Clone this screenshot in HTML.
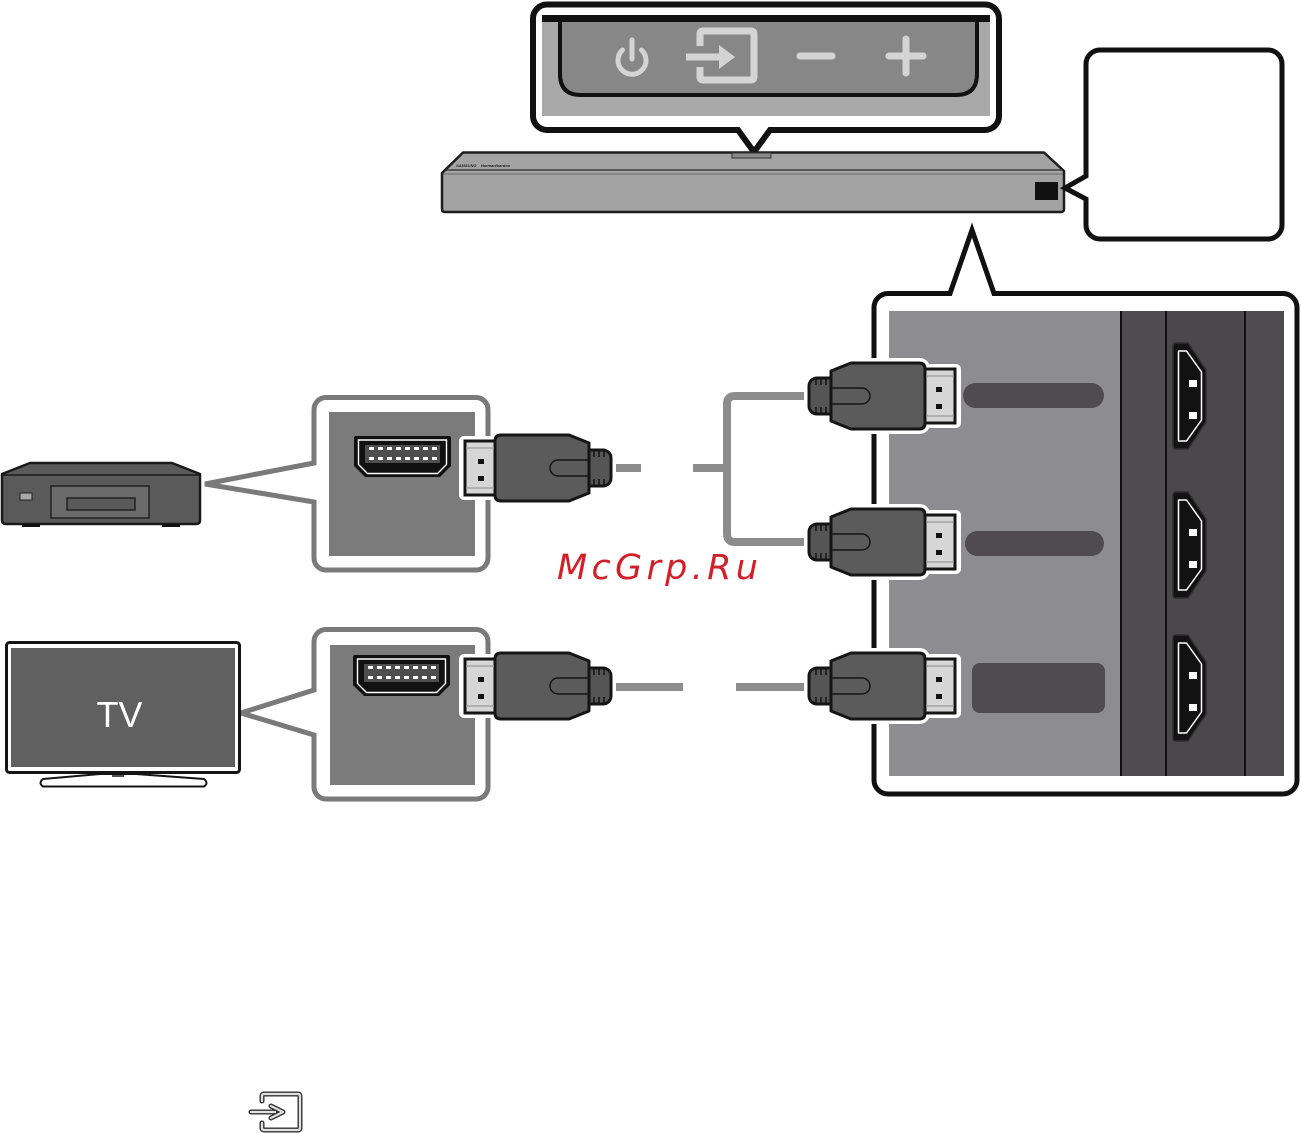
<!DOCTYPE html>
<html>
<head>
<meta charset="utf-8">
<style>
  html,body{margin:0;padding:0;background:#fff;}
  body{width:1302px;height:1133px;overflow:hidden;}
  svg{display:block;}
</style>
</head>
<body>
<svg width="1302" height="1133" viewBox="0 0 1302 1133" xmlns="http://www.w3.org/2000/svg">
  <defs>
    <g id="plug">
      <g fill="#fff" stroke="#fff" stroke-width="10" stroke-linejoin="round">
        <rect x="0" y="-18" width="30" height="36" rx="8"/>
        <path d="M22 -25 L42 -33 H110 Q116 -33 116 -27 V27 Q116 33 110 33 H42 L22 25 Z"/>
        <rect x="116" y="-27" width="31" height="54"/>
      </g>
      <rect x="0" y="-18" width="30" height="36" rx="8" fill="#555" stroke="#151515" stroke-width="3"/>
      <g stroke="#151515" stroke-width="1.5">
        <line x1="7" y1="-18" x2="7" y2="-11"/><line x1="12" y1="-18" x2="12" y2="-11"/><line x1="17" y1="-18" x2="17" y2="-11"/>
        <line x1="7" y1="11" x2="7" y2="18"/><line x1="12" y1="11" x2="12" y2="18"/><line x1="17" y1="11" x2="17" y2="18"/>
      </g>
      <path d="M22 -25 L42 -33 H110 Q116 -33 116 -27 V27 Q116 33 110 33 H42 L22 25 Z" fill="#5b5b5b" stroke="#151515" stroke-width="3" stroke-linejoin="round"/>
      <path d="M23 -8 H53 A8 8 0 0 1 53 8 H23" fill="none" stroke="#151515" stroke-width="1.5"/>
      <rect x="116" y="-27" width="30" height="54" fill="#d6d6d6" stroke="#151515" stroke-width="3"/>
      <line x1="117" y1="-20" x2="145" y2="-20" stroke="#999" stroke-width="1.2"/>
      <line x1="117" y1="20" x2="145" y2="20" stroke="#999" stroke-width="1.2"/>
      <rect x="127" y="-9" width="6" height="5" fill="#111"/>
      <rect x="127" y="8" width="6" height="5" fill="#111"/>
    </g>
    <g id="sock">
      <path d="M356 436 H449 Q451 436 451 438 V466 L440 477 H365 L354 466 V438 Q354 436 356 436 Z" fill="#111"/>
      <path d="M358.5 440 H446.5 V464.5 L437.5 473.5 H367.5 L358.5 464.5 Z" fill="none" stroke="#fff" stroke-width="1.4"/>
      <rect x="365" y="445" width="75" height="18" fill="#4e4e4e"/>
      <g fill="#fff">
        <rect x="369" y="447" width="5" height="3"/><rect x="378" y="447" width="5" height="3"/><rect x="387" y="447" width="5" height="3"/><rect x="396" y="447" width="5" height="3"/><rect x="405" y="447" width="5" height="3"/><rect x="414" y="447" width="5" height="3"/><rect x="423" y="447" width="5" height="3"/><rect x="432" y="447" width="5" height="3"/>
        <rect x="369" y="457" width="5" height="3"/><rect x="378" y="457" width="5" height="3"/><rect x="387" y="457" width="5" height="3"/><rect x="396" y="457" width="5" height="3"/><rect x="405" y="457" width="5" height="3"/><rect x="414" y="457" width="5" height="3"/><rect x="423" y="457" width="5" height="3"/><rect x="432" y="457" width="5" height="3"/>
      </g>
    </g>
    <g id="port">
      <path d="M1176 343 H1188 L1206 370 V422 L1188 449 H1176 Q1173 449 1173 446 V346 Q1173 343 1176 343 Z" fill="#121212" stroke="#2e2e2e" stroke-width="1.5"/>
      <path d="M1178.5 351 H1186.5 L1201.5 372 V420 L1186.5 441 H1178.5 Z" fill="none" stroke="#fff" stroke-width="1.5" stroke-linejoin="round"/>
      <rect x="1189" y="380" width="8" height="7" fill="#fff"/>
      <rect x="1189" y="412" width="8" height="7" fill="#fff"/>
    </g>
  </defs>

  <!-- TOP CALLOUT -->
  <path d="M547 4.5 H985 A14 14 0 0 1 999 18.5 V116 A14 14 0 0 1 985 130 H770 L754 152 L738 130 H547 A14 14 0 0 1 533 116 V18.5 A14 14 0 0 1 547 4.5 Z" fill="#fff" stroke="#111" stroke-width="6" stroke-linejoin="miter"/>
  <rect x="542" y="15" width="448" height="101" fill="#a9a9a9"/>
  <path d="M560 20 V74 Q560 95 581 95 H956 Q977 95 977 74 V20 Z" fill="#878787" stroke="#111" stroke-width="4"/>
  <rect x="542" y="15" width="448" height="7" fill="#111"/>
  <!-- icons -->
  <g fill="none" stroke="#d4d4d4" stroke-width="5" stroke-linecap="round">
    <path d="M622.5 50 A14 14 0 1 0 641.5 50"/>
    <line x1="632" y1="40" x2="632" y2="59"/>
  </g>
  <g fill="none" stroke="#d4d4d4" stroke-width="7">
    <path d="M700 46 V34 Q700 31 703 31 H751 Q754 31 754 34 V77 Q754 80 751 80 H703 Q700 80 700 77 V67" stroke-linejoin="round"/>
    <line x1="686" y1="57" x2="724" y2="57"/>
  </g>
  <path d="M719 45 L735 57 L719 69 Z" fill="#d4d4d4"/>
  <g stroke="#d4d4d4" stroke-width="7" stroke-linecap="round">
    <line x1="800" y1="56" x2="832" y2="56"/>
    <line x1="889" y1="56" x2="923" y2="56"/>
    <line x1="906" y1="39" x2="906" y2="73"/>
  </g>

  <!-- SOUNDBAR -->
  <path d="M463 152.5 H1044 L1064 171 V209 Q1064 212 1061 212 H445 Q442 212 442 209 V173 Z" fill="#a3a3a3" stroke="#1d1d1d" stroke-width="2.5" stroke-linejoin="round"/>
  <line x1="446" y1="170" x2="1062" y2="170" stroke="#2a2a2a" stroke-width="1.2"/>
  <line x1="443" y1="174" x2="1063" y2="174" stroke="#555" stroke-width="0.8"/>
  <text x="456" y="167" font-family="Liberation Sans, sans-serif" font-size="4" font-weight="bold" font-style="italic" fill="#222">SAMSUNG &#160;&#160;&#160;Harman/kardon</text>
  <rect x="732" y="153" width="39" height="5" fill="#8a8a8a" stroke="#333" stroke-width="1"/>
  <rect x="1035" y="182" width="23" height="18" fill="#111"/>

  <!-- RIGHT SMALL CALLOUT -->
  <path d="M1100 50 H1268 A14 14 0 0 1 1282 64 V225 A14 14 0 0 1 1268 239 H1100 A14 14 0 0 1 1086 225 V199 L1065 188 L1086 176 V64 A14 14 0 0 1 1100 50 Z" fill="#fff" stroke="#111" stroke-width="5"/>

  <!-- BIG RIGHT CALLOUT -->
  <path d="M888 293.5 H950 L972 230 L994 293.5 H1283 A14 14 0 0 1 1297 307.5 V780 A14 14 0 0 1 1283 794 H888 A14 14 0 0 1 874 780 V307.5 A14 14 0 0 1 888 293.5 Z" fill="#fff" stroke="#111" stroke-width="5"/>
  <rect x="889" y="311" width="232" height="465" fill="#8d8c8e"/>
  <rect x="1120" y="311" width="164" height="465" fill="#4e4c4e"/>
  <rect x="1166" y="311" width="79" height="465" fill="#4a484a"/>
  <g stroke="#111" stroke-width="2">
    <line x1="1121" y1="311" x2="1121" y2="776"/>
    <line x1="1166" y1="311" x2="1166" y2="776"/>
    <line x1="1245" y1="311" x2="1245" y2="776"/>
  </g>
  <rect x="963" y="383" width="141" height="25" rx="12.5" fill="#4e4c4e"/>
  <rect x="965" y="531" width="139" height="25" rx="12.5" fill="#4e4c4e"/>
  <rect x="972" y="663" width="133" height="50" rx="8" fill="#4e4c4e"/>
  <use href="#port"/>
  <use href="#port" transform="translate(0,149)"/>
  <use href="#port" transform="translate(0,292)"/>

  <!-- LEFT CALLOUT A (set-top box) -->
  <path d="M326 397.5 H476 A12 12 0 0 1 488 409.5 V558 A12 12 0 0 1 476 570 H326 A12 12 0 0 1 314 558 V502 L205 484 L314 463 V409.5 A12 12 0 0 1 326 397.5 Z" fill="#fff" stroke="#7a7a7a" stroke-width="5"/>
  <rect x="329" y="412" width="146" height="144" fill="#7b7b7b"/>
  <use href="#sock"/>

  <!-- LEFT CALLOUT B (TV) -->
  <path d="M326 629.5 H476 A12 12 0 0 1 488 641.5 V787 A12 12 0 0 1 476 799 H326 A12 12 0 0 1 314 787 V735 L241 713 L314 690 V641.5 A12 12 0 0 1 326 629.5 Z" fill="#fff" stroke="#7a7a7a" stroke-width="5"/>
  <rect x="330" y="645" width="145" height="140" fill="#7b7b7b"/>
  <use href="#sock" transform="translate(-1,219)"/>

  <!-- SET-TOP BOX -->
  <path d="M30 463 H172 L200 474 V520 Q200 524 196 524 H6 Q2 524 2 520 V474 Z" fill="#5a5a5a" stroke="#1a1a1a" stroke-width="2.5" stroke-linejoin="round"/>
  <line x1="3" y1="475" x2="199" y2="475" stroke="#1a1a1a" stroke-width="1.5"/>
  <rect x="51" y="486" width="98" height="32" fill="#6b6b6b" stroke="#222" stroke-width="1.5"/>
  <rect x="67" y="498" width="68" height="12" fill="#5a5a5a" stroke="#222" stroke-width="1.5"/>
  <rect x="20" y="493" width="12" height="7" fill="#a8a8a8" stroke="#222" stroke-width="1"/>
  <rect x="22" y="524" width="18" height="3" fill="#111"/>
  <rect x="162" y="524" width="18" height="3" fill="#111"/>

  <!-- TV -->
  <rect x="6.5" y="642.5" width="233" height="130" rx="3" fill="#fff" stroke="#151515" stroke-width="3"/>
  <rect x="11" y="648" width="224" height="119" fill="#606060"/>
  <text x="119.5" y="727" text-anchor="middle" font-family="Liberation Sans, sans-serif" font-size="36" fill="#fff">TV</text>
  <path d="M100 774 L43 779 Q38 783 43 786.5 H204 Q209 783 204 779 L136 774 Z" fill="#fff" stroke="#151515" stroke-width="2" stroke-linejoin="round"/>
  <line x1="112" y1="776" x2="124" y2="776" stroke="#151515" stroke-width="1.5"/>

  <!-- CABLES -->
  <g stroke="#8c8c8c" stroke-width="8" fill="none">
    <line x1="605" y1="468" x2="641" y2="468"/>
    <line x1="693" y1="468" x2="727" y2="468"/>
    <path d="M812 396 H735 Q727 396 727 404 V534 Q727 542 735 542 H812"/>
    <line x1="605" y1="687" x2="683" y2="687"/>
    <line x1="736" y1="687" x2="812" y2="687"/>
  </g>

  <!-- PLUGS -->
  <use href="#plug" transform="translate(809,396)"/>
  <use href="#plug" transform="translate(809,542)"/>
  <use href="#plug" transform="translate(809,686)"/>
  <use href="#plug" transform="translate(611,468) scale(-1,1)"/>
  <use href="#plug" transform="translate(611,686) scale(-1,1)"/>

  <!-- WATERMARK -->
  <text x="557" y="579" font-family="DejaVu Sans, Liberation Sans, sans-serif" font-style="oblique" font-size="35" letter-spacing="4.3" fill="#d0202a">McGrp.Ru</text>

  <!-- BOTTOM INPUT ICON -->
  <g fill="none" stroke-linejoin="round" stroke-linecap="round">
    <path d="M262 1101 V1096 Q262 1094 264 1094 H298 Q300 1094 300 1096 V1128 Q300 1130 298 1130 H264 Q262 1130 262 1128 V1123" stroke="#333" stroke-width="5"/>
    <path d="M262 1101 V1096 Q262 1094 264 1094 H298 Q300 1094 300 1096 V1128 Q300 1130 298 1130 H264 Q262 1130 262 1128 V1123" stroke="#e2e2e2" stroke-width="2.2"/>
    <path d="M251 1112 H275 M271 1106 L283 1112 L271 1118" stroke="#333" stroke-width="5"/>
    <path d="M251 1112 H275 M271 1106 L283 1112 L271 1118" stroke="#e2e2e2" stroke-width="2.2"/>
  </g>
</svg>
</body>
</html>
